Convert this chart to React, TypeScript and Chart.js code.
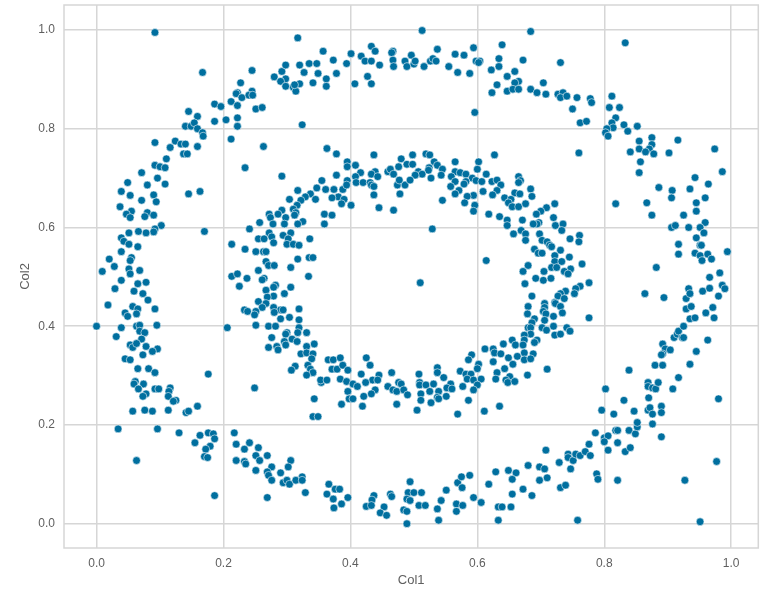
import React, { useEffect, useRef } from "react";
import { Chart, registerables } from "chart.js";

Chart.register(...registerables);

const xTicks = [0, 0.2, 0.4, 0.6, 0.8, 1.0];
const yTicks = [0, 0.2, 0.4, 0.6, 0.8, 1.0];

const outerUpperLeft: number[][] = [
[.092,.995],[.317,.984],[.167,.914],[.245,.918],[.227,.893],[.357,.957],[.280,.905],[.292,.916],[.298,.929],[.320,.929],[.335,.932],[.347,.932],[.373,.939],[.394,.932],[.401,.952],[.417,.947],[.423,.937],[.433,.937],[.433,.967],[.439,.957],[.446,.929],[.467,.957],[.465,.954],[.467,.939],[.468,.926],[.486,.937],[.489,.926],[.327,.914],[.349,.912],[.378,.912],[.362,.901],[.362,.886],[.341,.893],[.407,.891],[.427,.906],[.433,.891],[.298,.901],[.290,.896],[.298,.886],[.310,.884],[.314,.876],[.320,.891],[.312,.889],[.245,.876],[.222,.873],[.220,.871],[.212,.855],[.229,.863],[.240,.868],[.246,.868],[.222,.847],[.251,.840],[.261,.843],[.186,.850],[.196,.845],[.145,.835],[.159,.825],[.186,.815],[.204,.818],[.222,.822],[.222,.805],[.324,.808],[.140,.805],[.149,.805],[.154,.812],[.159,.800],[.167,.792],[.168,.785],[.212,.779],[.263,.764],[.092,.772],[.124,.775],[.116,.762],[.133,.769],[.140,.769],[.159,.764],[.137,.749],[.143,.749],[.110,.739],[.092,.726],[.100,.723],[.108,.721],[.071,.711],[.096,.700],[.049,.691],[.080,.686],[.108,.688],[.039,.673],[.053,.665],[.090,.666],[.071,.655],[.094,.652],[.037,.642],[.055,.633],[.047,.627],[.053,.620],[.080,.630],[.076,.622],[.090,.625],[.145,.668],[.163,.673],[.102,.604],[.092,.597],[.090,.591],[.078,.589],[.066,.592],[.051,.589],[.170,.592],[.039,.579],[.043,.572],[.051,.566],[.065,.561],[.039,.551],[.020,.536],[.055,.539],[.053,.533],[.028,.521],[.051,.516],[.068,.513],[.053,.506],[.009,.511],[.039,.493]
];

const innerUpperLeft: number[][] = [
[.363,.760],[.378,.749],[.437,.747],[.395,.733],[.395,.723],[.408,.726],[.416,.711],[.408,.703],[.378,.706],[.395,.695],[.409,.691],[.420,.691],[.431,.691],[.433,.686],[.437,.683],[.437,.666],[.439,.713],[.433,.708],[.443,.703],[.459,.713],[.463,.718],[.468,.708],[.476,.723],[.480,.739],[.489,.728],[.474,.686],[.486,.686],[.478,.668],[.477,.696],[.445,.640],[.468,.635],[.355,.695],[.347,.680],[.361,.677],[.374,.677],[.388,.677],[.394,.686],[.381,.662],[.371,.660],[.390,.657],[.386,.648],[.401,.645],[.337,.668],[.345,.657],[.329,.662],[.322,.655],[.317,.675],[.304,.657],[.316,.645],[.310,.637],[.314,.630],[.312,.625],[.292,.704],[.234,.721],[.292,.635],[.272,.627],[.286,.627],[.274,.620],[.298,.620],[.278,.607],[.296,.607],[.325,.612],[.317,.607],[.257,.610],[.241,.597],[.359,.627],[.371,.625],[.359,.607],[.272,.589],[.306,.589],[.276,.581],[.294,.584],[.255,.577],[.264,.577],[.302,.577],[.279,.569],[.300,.566],[.310,.566],[.319,.564],[.336,.577],[.213,.566],[.234,.556],[.251,.551],[.263,.551],[.267,.551],[.317,.536],[.335,.539],[.341,.539],[.267,.531],[.271,.523],[.280,.523],[.255,.513],[.306,.519],[.334,.501],[.213,.501],[.222,.506],[.237,.497],[.264,.497]
];

const outerLowerLeft: number[][] = [
[.065,.486],[.078,.489],[.029,.476],[.059,.471],[.073,.466],[.081,.453],[.018,.443],[.057,.440],[.065,.435],[.092,.435],[.045,.427],[.049,.420],[.063,.425],[.039,.397],[.000,.400],[.063,.400],[.068,.402],[.095,.402],[.068,.390],[.076,.387],[.031,.379],[.071,.374],[.053,.362],[.057,.357],[.063,.365],[.078,.359],[.096,.354],[.088,.349],[.073,.342],[.045,.334],[.053,.332],[.065,.314],[.082,.314],[.092,.306],[.176,.303],[.061,.288],[.059,.283],[.074,.283],[.066,.273],[.092,.273],[.098,.273],[.116,.275],[.114,.268],[.078,.263],[.073,.258],[.113,.258],[.125,.250],[.121,.248],[.057,.228],[.076,.230],[.088,.228],[.113,.230],[.141,.225],[.145,.228],[.159,.238],[.034,.192],[.096,.192],[.130,.184],[.163,.179],[.176,.184],[.184,.182],[.186,.172],[.155,.164],[.179,.157],[.172,.151],[.170,.136],[.175,.134],[.063,.128],[.186,.057],[.217,.184],[.220,.161],[.241,.164],[.233,.151],[.255,.154],[.251,.138],[.269,.138],[.257,.128],[.220,.128],[.233,.126],[.235,.121],[.306,.128],[.251,.108],[.276,.115],[.302,.115],[.269,.105],[.290,.103],[.271,.098],[.276,.088],[.294,.083],[.300,.088],[.304,.080],[.314,.088],[.324,.095],[.324,.088],[.269,.053],[.329,.063],[.366,.080],[.363,.060],[.376,.070],[.383,.070],[.373,.050],[.396,.053],[.386,.040],[.374,.032],[.437,.057],[.434,.048],[.425,.035],[.433,.037],[.453,.034],[.447,.022],[.457,.017],[.463,.060],[.465,.055],[.494,.085],[.491,.063],[.489,.050],[.484,.028],[.489,.025],[.489,.000]
];

const innerLowerLeft: number[][] = [
[.225,.481],[.261,.494],[.267,.473],[.282,.483],[.279,.479],[.306,.479],[.296,.466],[.279,.461],[.269,.459],[.255,.450],[.267,.446],[.261,.438],[.233,.433],[.238,.430],[.251,.430],[.249,.423],[.279,.438],[.290,.433],[.294,.433],[.280,.428],[.319,.435],[.304,.418],[.290,.415],[.319,.413],[.251,.402],[.271,.400],[.282,.400],[.206,.397],[.319,.397],[.300,.387],[.298,.384],[.317,.387],[.331,.387],[.276,.377],[.308,.374],[.296,.369],[.316,.369],[.298,.362],[.284,.359],[.271,.357],[.286,.352],[.343,.364],[.331,.359],[.322,.344],[.331,.346],[.341,.344],[.339,.334],[.365,.332],[.373,.332],[.384,.336],[.333,.321],[.313,.319],[.307,.311],[.371,.313],[.379,.313],[.388,.321],[.396,.311],[.337,.313],[.341,.306],[.331,.301],[.425,.336],[.431,.321],[.417,.303],[.445,.301],[.435,.291],[.443,.291],[.424,.286],[.465,.306],[.384,.293],[.394,.288],[.404,.283],[.411,.278],[.354,.286],[.353,.291],[.363,.291],[.396,.268],[.439,.271],[.433,.263],[.421,.258],[.459,.278],[.476,.286],[.480,.283],[.467,.271],[.473,.268],[.484,.271],[.490,.261],[.249,.275],[.343,.253],[.398,.253],[.404,.253],[.386,.242],[.419,.238],[.473,.242],[.341,.217],[.349,.217]
];

const outerUpperRight: number[][] = [
[.513,.999],[.684,.997],[.833,.974],[.537,.961],[.594,.964],[.565,.951],[.579,.949],[.496,.949],[.500,.931],[.502,.937],[.516,.926],[.526,.937],[.530,.942],[.535,.937],[.555,.926],[.569,.914],[.588,.912],[.598,.937],[.604,.937],[.602,.934],[.639,.970],[.634,.942],[.634,.926],[.622,.919],[.672,.939],[.731,.934],[.659,.916],[.647,.906],[.665,.896],[.659,.893],[.631,.889],[.623,.873],[.647,.876],[.656,.880],[.665,.880],[.684,.880],[.694,.873],[.704,.893],[.708,.870],[.727,.870],[.735,.873],[.731,.863],[.741,.866],[.757,.863],[.778,.861],[.780,.853],[.750,.840],[.762,.812],[.772,.815],[.760,.751],[.596,.833],[.812,.866],[.808,.843],[.824,.843],[.818,.822],[.812,.812],[.814,.802],[.804,.800],[.802,.792],[.806,.785],[.831,.808],[.837,.795],[.852,.805],[.875,.782],[.855,.775],[.855,.759],[.875,.768],[.871,.759],[.865,.753],[.841,.753],[.878,.749],[.902,.751],[.916,.777],[.974,.759],[.857,.733],[.855,.711],[.986,.713],[.943,.701],[.964,.688],[.886,.681],[.907,.675],[.935,.678],[.906,.660],[.959,.660],[.818,.648],[.867,.650],[.945,.650],[.945,.633],[.875,.625],[.925,.625],[.959,.610],[.906,.600],[.912,.604],[.933,.600],[.951,.600],[.957,.589],[.945,.579],[.951,.564],[.953,.564],[.917,.566],[.917,.546],[.943,.548],[.951,.543],[.963,.546],[.969,.536],[.954,.533],[.994,.551],[.882,.519],[.966,.499],[.982,.508]
];

const innerUpperRight: number[][] = [
[.627,.747],[.498,.747],[.519,.749],[.525,.747],[.532,.733],[.537,.726],[.545,.718],[.524,.721],[.523,.716],[.498,.728],[.507,.713],[.513,.708],[.502,.706],[.494,.696],[.527,.700],[.543,.706],[.545,.655],[.565,.733],[.602,.733],[.600,.718],[.565,.713],[.573,.711],[.559,.703],[.565,.693],[.582,.708],[.592,.700],[.598,.695],[.582,.693],[.579,.688],[.558,.683],[.571,.675],[.565,.668],[.614,.708],[.607,.693],[.623,.693],[.631,.696],[.637,.686],[.631,.675],[.609,.673],[.624,.666],[.594,.665],[.584,.663],[.580,.650],[.596,.645],[.594,.633],[.665,.703],[.668,.695],[.665,.691],[.684,.678],[.686,.663],[.659,.670],[.667,.668],[.643,.660],[.653,.657],[.649,.650],[.655,.642],[.665,.642],[.676,.648],[.722,.648],[.709,.640],[.700,.633],[.693,.627],[.618,.627],[.635,.622],[.647,.615],[.647,.604],[.671,.615],[.720,.620],[.697,.610],[.694,.607],[.688,.607],[.723,.604],[.735,.607],[.733,.594],[.529,.597],[.669,.594],[.657,.587],[.676,.587],[.676,.574],[.698,.587],[.702,.574],[.710,.571],[.714,.564],[.717,.561],[.761,.584],[.746,.577],[.760,.571],[.690,.556],[.696,.548],[.702,.548],[.731,.554],[.722,.543],[.745,.540],[.722,.531],[.733,.531],[.680,.523],[.672,.511],[.614,.533],[.765,.526],[.717,.519],[.725,.519],[.747,.516],[.705,.511],[.737,.511],[.743,.506],[.692,.497],[.704,.493],[.716,.497]
];

const innerLowerRight: number[][] = [
[.510,.488],[.675,.486],[.776,.488],[.762,.481],[.755,.476],[.753,.466],[.739,.471],[.731,.466],[.727,.461],[.737,.456],[.722,.448],[.686,.461],[.680,.440],[.706,.446],[.706,.438],[.723,.446],[.731,.440],[.679,.425],[.704,.430],[.708,.425],[.734,.427],[.706,.412],[.720,.420],[.776,.417],[.690,.415],[.686,.407],[.680,.397],[.684,.397],[.702,.397],[.709,.392],[.720,.400],[.722,.382],[.731,.384],[.741,.397],[.746,.390],[.684,.384],[.674,.382],[.674,.372],[.694,.372],[.690,.367],[.655,.372],[.641,.364],[.660,.362],[.672,.362],[.612,.354],[.625,.354],[.627,.346],[.637,.344],[.674,.346],[.688,.344],[.591,.342],[.649,.336],[.663,.339],[.674,.332],[.684,.334],[.586,.332],[.625,.328],[.656,.323],[.602,.323],[.600,.314],[.643,.314],[.710,.313],[.537,.316],[.537,.306],[.573,.309],[.582,.303],[.590,.303],[.631,.306],[.508,.303],[.547,.296],[.584,.293],[.594,.291],[.606,.293],[.629,.293],[.651,.298],[.645,.291],[.648,.286],[.659,.288],[.679,.301],[.509,.286],[.509,.281],[.519,.281],[.531,.283],[.558,.283],[.552,.275],[.560,.273],[.600,.281],[.577,.278],[.594,.271],[.511,.263],[.525,.268],[.539,.268],[.511,.250],[.537,.256],[.539,.253],[.551,.258],[.527,.245],[.586,.250],[.505,.230],[.569,.222],[.611,.228],[.635,.238]
];

const outerLowerRight: number[][] = [
[.500,.063],[.512,.063],[.494,.047],[.508,.037],[.518,.037],[.551,.068],[.543,.047],[.537,.030],[.539,.007],[.569,.083],[.575,.095],[.588,.098],[.576,.073],[.567,.040],[.577,.037],[.567,.025],[.594,.053],[.606,.043],[.618,.080],[.629,.105],[.649,.108],[.661,.103],[.655,.090],[.655,.060],[.672,.070],[.686,.057],[.633,.034],[.639,.034],[.653,.034],[.633,.007],[.758,.007],[.680,.118],[.698,.115],[.706,.111],[.698,.088],[.710,.093],[.708,.149],[.729,.124],[.731,.073],[.739,.078],[.747,.111],[.743,.141],[.743,.134],[.751,.128],[.755,.141],[.762,.138],[.770,.146],[.776,.161],[.778,.138],[.788,.101],[.790,.090],[.821,.088],[.786,.184],[.800,.174],[.806,.178],[.800,.166],[.806,.149],[.818,.189],[.821,.189],[.821,.164],[.833,.146],[.841,.154],[.839,.189],[.849,.182],[.852,.196],[.852,.205],[.876,.202],[.890,.176],[.796,.230],[.815,.222],[.847,.228],[.831,.250],[.869,.230],[.872,.235],[.876,.222],[.890,.238],[.890,.225],[.802,.273],[.870,.255],[.869,.286],[.869,.278],[.876,.275],[.881,.273],[.885,.286],[.908,.273],[.917,.296],[.839,.311],[.980,.253],[.977,.126],[.927,.088],[.951,.004],[.880,.321],[.892,.321],[.935,.323],[.945,.349],[.963,.372],[.892,.364],[.896,.354],[.904,.352],[.892,.344],[.890,.342],[.910,.377],[.915,.384],[.917,.390],[.923,.377],[.925,.377],[.925,.400],[.935,.415],[.943,.417],[.929,.435],[.937,.440],[.929,.456],[.933,.476],[.935,.466],[.955,.471],[.966,.477],[.960,.427],[.971,.438],[.973,.417],[.980,.461],[.986,.483],[.990,.476],[.864,.466],[.894,.458]
];

const allPoints = [
  ...outerUpperLeft, ...innerUpperLeft, ...outerLowerLeft, ...innerLowerLeft,
  ...outerUpperRight, ...innerUpperRight, ...innerLowerRight, ...outerLowerRight,
];

const GRID = "#d6d6d6";
const TEXT = "#5f5f5f";
const FONT = "'Liberation Sans', Arial, sans-serif";

const framePlugin = {
  id: "frame",
  beforeDatasetsDraw(chart: any) {
    const { ctx, chartArea: a } = chart;
    ctx.save();
    ctx.strokeStyle = GRID;
    ctx.lineWidth = 1.5;
    ctx.strokeRect(a.left, a.top, a.right - a.left, a.bottom - a.top);
    ctx.restore();
  },
};

const zeroPadding = (axis: any) => {
  axis.paddingTop = 0;
  axis.paddingBottom = 0;
  axis.paddingLeft = 0;
  axis.paddingRight = 0;
};

export default function App() {
  const ref = useRef<HTMLCanvasElement>(null);
  useEffect(() => {
    document.body.style.margin = "0";
    const chart = new Chart(ref.current!, {
      type: "scatter",
      data: {
        datasets: [
          {
            data: allPoints.map(([x, y]) => ({ x, y })),
            backgroundColor: "#006f9f",
            borderColor: "rgba(255,255,255,0.8)",
            borderWidth: 0.7,
            pointRadius: 3.9,
            clip: false,
          },
        ],
      },
      options: {
        animation: false,
        responsive: false,
        layout: { padding: { left: 0, right: 1.5, top: 5, bottom: 0 } },
        plugins: { legend: { display: false }, tooltip: { enabled: false } },
        scales: {
          x: {
            type: "linear",
            min: -0.0513,
            max: 1.0427,
            afterBuildTicks: (axis: any) => {
              axis.ticks = xTicks.map((value) => ({ value }));
            },
            afterFit: (axis: any) => {
              axis.height = 55;
              zeroPadding(axis);
            },
            grid: { color: GRID, lineWidth: 1.5, drawTicks: false },
            border: { display: false },
            ticks: {
              color: TEXT,
              font: { family: FONT, size: 12 },
              padding: 8,
              maxRotation: 0,
              callback: (v: any) => Number(v).toFixed(1),
            },
            title: {
              display: true,
              text: "Col1",
              color: TEXT,
              font: { family: FONT, size: 13 },
              padding: { top: 4, bottom: 15 },
            },
          },
          y: {
            type: "linear",
            min: -0.0492,
            max: 1.0506,
            afterBuildTicks: (axis: any) => {
              axis.ticks = yTicks.map((value) => ({ value }));
            },
            afterFit: (axis: any) => {
              axis.width = 64;
              zeroPadding(axis);
            },
            grid: { color: GRID, lineWidth: 1.5, drawTicks: false },
            border: { display: false },
            ticks: {
              color: TEXT,
              font: { family: FONT, size: 12 },
              padding: 9,
              callback: (v: any) => Number(v).toFixed(1),
            },
            title: {
              display: true,
              text: "Col2",
              color: TEXT,
              font: { family: FONT, size: 13 },
              padding: { top: 18, bottom: 4 },
            },
          },
        },
      },
      plugins: [framePlugin],
    } as any);
    return () => chart.destroy();
  }, []);
  return <canvas ref={ref} width={763} height={603} style={{ display: "block" }} />;
}
